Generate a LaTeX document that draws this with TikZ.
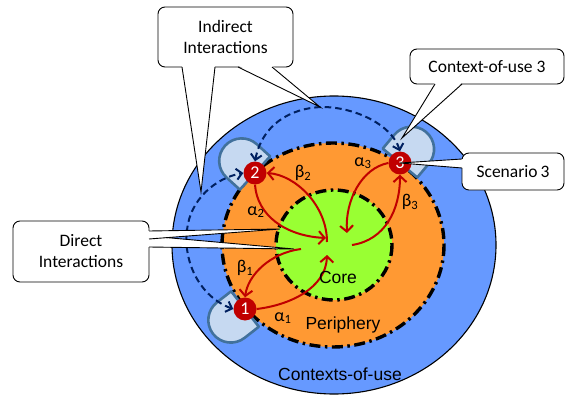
\documentclass[tikz,border=0pt]{standalone}
\usepackage{fontspec}
\setmainfont{Carlito}
\newfontfamily\arialfont{Liberation Sans}
\usetikzlibrary{arrows.meta}

\definecolor{ctxblue}{RGB}{102,153,255}
\definecolor{perorange}{RGB}{255,153,51}
\definecolor{coregreen}{RGB}{153,255,51}
\definecolor{padfill}{RGB}{198,217,241}
\definecolor{padedge}{RGB}{65,113,156}
\definecolor{scenred}{RGB}{192,0,0}
\definecolor{navyline}{RGB}{0,32,96}

\tikzset{
  ringline/.style={line width=3.4pt, dash pattern=on 11pt off 4.5pt on 2.5pt off 4.5pt},
  redarrow/.style={draw=scenred, line width=2pt, -{Straight Barb[length=6pt,width=13pt]}},
  indirect/.style={draw=navyline, line width=2pt, dash pattern=on 6.5pt off 4pt,
    {Straight Barb[length=5.5pt,width=11pt]}-{Straight Barb[length=5.5pt,width=11pt]}},
  scen/.style={circle, fill=scenred, text=white, minimum size=23pt, inner sep=0pt,
    font=\fontsize{18}{18}\selectfont},
  callbox/.style={draw, fill=white, rounded corners=7pt, line width=0.9pt, align=center,
    font=\fontsize{17.5}{21}\selectfont},
  tailline/.style={line width=0.9pt},
  greek/.style={font=\fontsize{18}{18}\selectfont},
  zonelabel/.style={font=\arialfont\fontsize{17.5}{18}\selectfont},
  pad/.pic={
    \draw[fill=padfill, draw=padedge, line width=2.6pt, line join=round]
      (0,-22.5) -- (18,-22.5) arc[start angle=-90, end angle=90, radius=22.5] -- (0,22.5) -- cycle;
  }
}

\begin{document}
\begin{tikzpicture}[x=1pt, y=-1pt]
\useasboundingbox (0,0) rectangle (567,398);

% three nested zones
\draw[fill=ctxblue, line width=1.1pt] (334,245) ellipse [x radius=162, y radius=149];
\fill[perorange] (333,245) ellipse [x radius=111, y radius=102];
\draw[ringline] (333,245) ellipse [x radius=111, y radius=102];
\fill[coregreen] (334,245) ellipse [x radius=58, y radius=55];
\draw[ringline] (334,245) ellipse [x radius=58, y radius=55];

% contexts of use around each scenario
\pic[rotate=218] at (245,309) {pad};
\pic[rotate=137.7] at (255,173) {pad};
\pic[rotate=50] at (400,163) {pad};

% scenarios
\node[scen] (n1) at (245,309) {1};
\node[scen] (n2) at (255,173) {2};
\node[scen] (n3) at (400,163) {3};

% end points inside the core
\coordinate (a1) at (327,255);
\coordinate (a2) at (326,238);
\coordinate (a3) at (347,233);
\coordinate (b1) at (301,249);
\coordinate (b2) at (327,242);
\coordinate (b3) at (352,245);

% indirect interactions
\draw[indirect] (n1.west) .. controls (200,297) and (183,262) .. (187,230)
  .. controls (190,200) and (215,178) .. (n2.west);
\draw[indirect] (n2.north) .. controls (262,125) and (290,108) .. (322,107)
  .. controls (355,107) and (392,125) .. (n3.north);

% direct interactions
\draw[redarrow] (n2.south) .. controls (257,215) and (285,236) .. (a2);
\draw[redarrow] (b2) .. controls (327,205) and (295,175) .. (n2.east);
\draw[redarrow] (n3.west) .. controls (362,168) and (345,200) .. (a3);
\draw[redarrow] (b3) .. controls (385,240) and (400,210) .. (n3.south);
\draw[redarrow] (b1) .. controls (270,253) and (248,275) .. (n1.north);
\draw[redarrow] (n1.east) .. controls (290,305) and (326,288) .. (a1);

% labels
\node[greek] (la1) at (283,318) {α\textsubscript{1}};
\node[greek] (lb1) at (245,268) {β\textsubscript{1}};
\node[greek] (la2) at (256,212) {α\textsubscript{2}};
\node[greek] (lb2) at (303,173) {β\textsubscript{2}};
\node[greek] (la3) at (363,163) {α\textsubscript{3}};
\node[greek] (lb3) at (410,202) {β\textsubscript{3}};

\node[zonelabel] (core) at (338,277) {Core};
\node[zonelabel] (peri) at (343,325) {Periphery};
\node[zonelabel] (ctx) at (340,374) {Contexts-of-use};

% callout: indirect interactions
\node[callbox, minimum width=135pt, minimum height=60pt] (indir) at (225.5,37) {Indirect\\Interactions};
\coordinate (ti1) at (201,192);
\coordinate (ti2) at (320,107);
\fill[white] (182,65.5) -- (ti1) -- (215,65.5) -- cycle;
\draw[tailline] (182,67) -- (ti1) -- (215,67);
\fill[white] (238,65.5) -- (ti2) -- (272,65.5) -- cycle;
\draw[tailline] (238,67) -- (ti2) -- (272,67);

% callout: context of use 3
\node[callbox, minimum width=154pt, minimum height=35pt] (ctx3) at (487,66.5) {Context-of-use 3};
\coordinate (tc3) at (402,138);
\fill[white] (435,82.5) -- (tc3) -- (462,82.5) -- cycle;
\draw[tailline] (435,84) -- (tc3) -- (462,84);

% callout: scenario 3
\node[callbox, minimum width=102pt, minimum height=37pt] (sc3) at (513,171.5) {Scenario\,3};
\fill[white] (463.5,159) -- (n3.center) -- (463.5,168) -- cycle;
\draw[tailline] (462,159) -- (n3.center) -- (462,168);

% callout: direct interactions
\node[callbox, minimum width=136pt, minimum height=61pt] (dir) at (81,251.5) {Direct\\Interactions};
\coordinate (td1) at (280,229);
\coordinate (td2) at (294,249);
\fill[white] (147.5,236) -- (td2) -- (147.5,247) -- cycle;
\draw[tailline] (149,236) -- (td2) -- (149,247);
\fill[white] (147.5,231) -- (td1) -- (147.5,239) -- cycle;
\draw[tailline] (149,231) -- (td1) -- (149,239);
\end{tikzpicture}
\end{document}
